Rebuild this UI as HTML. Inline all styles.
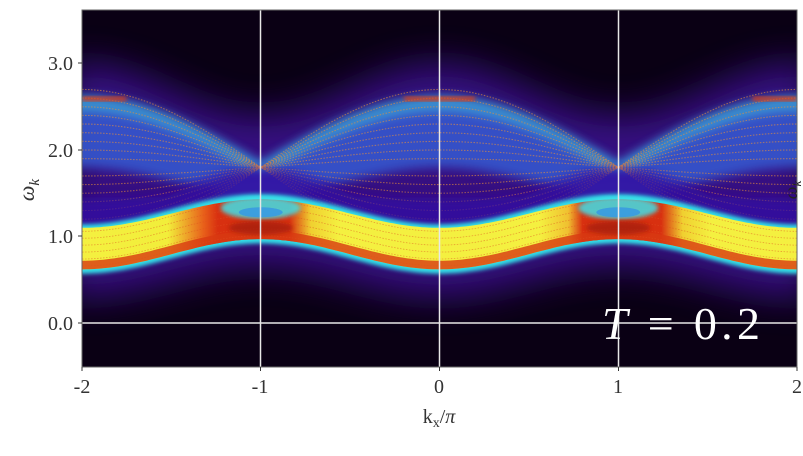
<!DOCTYPE html>
<html><head><meta charset="utf-8"><style>
body{margin:0;background:#fff;width:803px;height:451px;overflow:hidden}
text{font-family:"Liberation Serif",serif;fill:#333}
</style></head><body>
<svg id="s" width="803" height="451" xmlns="http://www.w3.org/2000/svg">
<defs>
<filter id="b20" x="-20%" y="-50%" width="140%" height="200%"><feGaussianBlur stdDeviation="18"/></filter>
<filter id="b5"><feGaussianBlur stdDeviation="5"/></filter>
<filter id="b2"><feGaussianBlur stdDeviation="2"/></filter>
<clipPath id="cp"><rect x="82" y="10" width="715" height="357"/></clipPath>
<linearGradient id="lg" x1="82" x2="797" y1="0" y2="0" gradientUnits="userSpaceOnUse">
<stop offset="0" stop-color="#f4f040"/>
<stop offset="0.12" stop-color="#f2ee3a"/>
<stop offset="0.17" stop-color="#e8601a"/>
<stop offset="0.19" stop-color="#d83010"/>
<stop offset="0.29" stop-color="#d83010"/>
<stop offset="0.32" stop-color="#f0d030"/>
<stop offset="0.36" stop-color="#f4f040"/>
<stop offset="0.64" stop-color="#f4f040"/>
<stop offset="0.68" stop-color="#f0c030"/>
<stop offset="0.70" stop-color="#d83010"/>
<stop offset="0.81" stop-color="#d83010"/>
<stop offset="0.84" stop-color="#f0d030"/>
<stop offset="0.88" stop-color="#f4f040"/>
<stop offset="1" stop-color="#f4f040"/>
</linearGradient>
</defs>
<rect x="82" y="10" width="715" height="357" fill="#0a0014"/>
<g clip-path="url(#cp)" id="g"></g>
<g stroke="#e8e8e8" stroke-width="1.5">
<line x1="260.5" y1="10" x2="260.5" y2="367"/>
<line x1="439.5" y1="10" x2="439.5" y2="367"/>
<line x1="618.5" y1="10" x2="618.5" y2="367"/>
<line x1="82" y1="323" x2="797" y2="323"/>
</g>
<rect x="82" y="10" width="715" height="357" fill="none" stroke="#666" stroke-width="1"/>
<g stroke="#333" stroke-width="1">
<line x1="78" y1="63" x2="82" y2="63"/><line x1="78" y1="150" x2="82" y2="150"/>
<line x1="78" y1="236" x2="82" y2="236"/><line x1="78" y1="323" x2="82" y2="323"/>
<line x1="82" y1="367" x2="82" y2="371"/><line x1="260.5" y1="367" x2="260.5" y2="371"/>
<line x1="439.5" y1="367" x2="439.5" y2="371"/><line x1="618.5" y1="367" x2="618.5" y2="371"/>
<line x1="797" y1="367" x2="797" y2="371"/>
</g>
<g font-size="20" text-anchor="end">
<text x="73" y="70">3.0</text><text x="73" y="157">2.0</text>
<text x="73" y="243">1.0</text><text x="73" y="330">0.0</text>
</g>
<g font-size="20" text-anchor="middle">
<text x="82" y="393">-2</text><text x="260" y="393">-1</text><text x="439" y="393">0</text>
<text x="618" y="393">1</text><text x="797" y="393">2</text>
<text x="439" y="423">k<tspan font-size="14" dy="4">x</tspan><tspan dy="-4">/</tspan><tspan font-style="italic">π</tspan></text>
</g>
<text x="0" y="0" font-size="22" font-style="italic" transform="translate(34,190) rotate(-90)" text-anchor="middle">ω<tspan font-size="15" dy="5">k</tspan></text>
<text x="0" y="0" font-size="18" font-style="italic" transform="translate(797,190) rotate(-90)" text-anchor="middle" style="fill:#222">ω<tspan font-size="13" dy="4">k</tspan></text>
<text x="602" y="339" font-size="46" textLength="158" lengthAdjust="spacing" style="fill:#fff"><tspan font-style="italic">T</tspan> = 0.2</text>
<script>
var g=document.getElementById('g'),NS='http://www.w3.org/2000/svg';
function X(k){return 439.5+178.75*k}function Y(w){return 323-86.5*w}
function C(k){return (1+Math.cos(Math.PI*k))/2}
function H(k){return Math.abs(Math.cos(Math.PI*k/2))}
function band(f1,f2){var p='',k;for(k=-2.1;k<=2.1;k+=0.02)p+=(p?'L':'M')+X(k).toFixed(1)+','+Y(f1(k)).toFixed(1);
for(k=2.1;k>=-2.1;k-=0.02)p+='L'+X(k).toFixed(1)+','+Y(f2(k)).toFixed(1);return p+'Z'}
function line(f){var p='';for(var k=-2.1;k<=2.1;k+=0.02)p+=(p?'L':'M')+X(k).toFixed(1)+','+Y(f(k)).toFixed(1);return p}
function add(tag,a){var e=document.createElementNS(NS,tag);for(var n in a)e.setAttribute(n,a[n]);g.appendChild(e);return e}
add('path',{d:band(function(k){return 0.3+0.35*(1-C(k))},function(k){return 2.7+0.3*C(k)-0.3*(1-C(k))}),fill:'#4a12b0',opacity:0.7,filter:'url(#b20)'});
add('path',{d:band(function(k){return 1.5+0.3*C(k)},function(k){return 1.85+0.75*H(k)}),fill:'#3560d8',opacity:0.8,filter:'url(#b5)'});
add('path',{d:band(function(k){return 1.7+0.75*H(k)},function(k){return 1.85+0.78*H(k)}),fill:'#40d8e0',opacity:0.5,filter:'url(#b5)'});
add('ellipse',{cx:X(-1),cy:Y(1.5),rx:45,ry:12,fill:'#3a8ae0',opacity:0.6,filter:'url(#b5)'});
add('ellipse',{cx:X(1),cy:Y(1.5),rx:45,ry:12,fill:'#3a8ae0',opacity:0.6,filter:'url(#b5)'});
add('path',{d:band(function(k){return 0.9+0.35*(1-C(k))},function(k){return 1.8-0.42*H(k)}),fill:'#3a10a0',opacity:0.45,filter:'url(#b5)'});
for(var i=0;i<=8;i++){(function(a){
add('path',{d:line(function(k){return 1.8+a*Math.cos(Math.PI*k/2)}),fill:'none',stroke:'#e8903a','stroke-width':1.1,'stroke-dasharray':'1.5 1.5',opacity:0.6});
add('path',{d:line(function(k){return 1.8-a*Math.cos(Math.PI*k/2)}),fill:'none',stroke:'#e8903a','stroke-width':1.1,'stroke-dasharray':'1.5 1.5',opacity:0.6});
})(0.1+i*0.1)}
// fade lower crossing parts
add('path',{d:band(function(k){return 0.9+0.35*(1-C(k))},function(k){return Math.max(1.45,1.78-0.6*H(k)*H(k))}),fill:'#3010a0',opacity:0.75,filter:'url(#b5)'});
add('path',{d:band(function(k){return 0.57+0.35*(1-C(k))},function(k){return 1.14+0.35*(1-C(k))}),fill:'#30e0e8',filter:'url(#b2)'});
add('path',{d:band(function(k){return 0.62+0.35*(1-C(k))},function(k){return 1.1+0.33*(1-C(k))}),fill:'url(#lg)'});
add('path',{d:band(function(k){return 0.62+0.35*(1-C(k))},function(k){return 0.72+0.35*(1-C(k))}),fill:'#d83a12',opacity:0.8});
for(var i=0;i<6;i++){(function(a){add('path',{d:line(function(k){return 0.66+a+0.35*(1-C(k))}),fill:'none',stroke:'#e05020','stroke-width':0.8,'stroke-dasharray':'1.5 1.5',opacity:0.5})})(i*0.08)}
[-1,1].forEach(function(k){add('ellipse',{cx:X(k),cy:Y(1.33),rx:40,ry:11,fill:'#40e0e8',opacity:0.85,filter:'url(#b2)'});
add('ellipse',{cx:X(k),cy:Y(1.28),rx:22,ry:5,fill:'#3a9ae0',opacity:0.9});
add('ellipse',{cx:X(k),cy:Y(1.1),rx:32,ry:7,fill:'#a01a08',opacity:0.7,filter:'url(#b2)'});});
[[-2,-1.75],[-0.2,0.2],[1.75,2]].forEach(function(r){add('rect',{x:X(r[0]),y:Y(2.62),width:X(r[1])-X(r[0]),height:5,rx:2,fill:'#e03a10',opacity:0.85,filter:'url(#b2)'});});
</script>
</svg>
</body></html>
